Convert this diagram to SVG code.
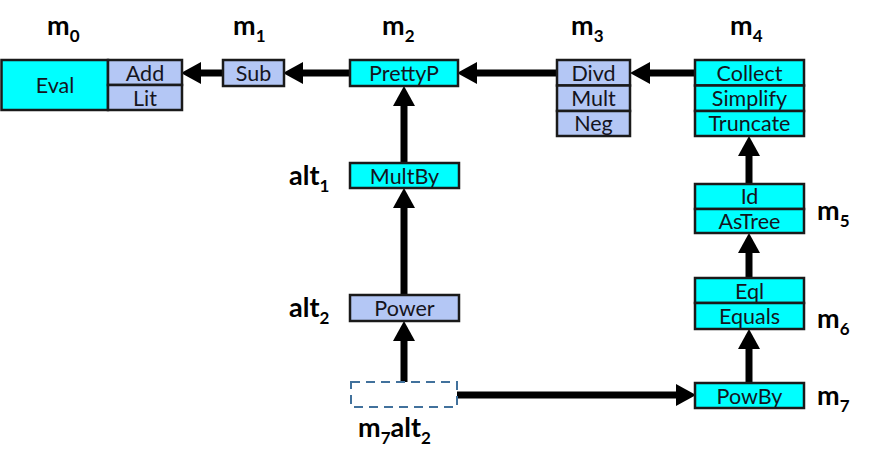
<svg xmlns="http://www.w3.org/2000/svg" width="870" height="466" viewBox="0 0 870 466">
<style>
.c{fill:#00FFFF;stroke:#1a1a1a;stroke-width:2.5}
.b{fill:#B4C7F5;stroke:#1a1a1a;stroke-width:2.5}
.t{font-family:Lato,"Open Sans",sans-serif;font-size:21.5px;fill:#141420;text-anchor:middle}
.h{font-family:Lato,"Open Sans",sans-serif;font-size:27px;font-weight:bold;fill:#000}
.s{font-size:17px}
.a{stroke:#000;stroke-width:7;fill:none}
</style>
<defs>
<marker id="ah" markerUnits="userSpaceOnUse" markerWidth="20" markerHeight="22" refX="0" refY="11" orient="auto" viewBox="0 0 20 22">
<path d="M0,0 L20,11 L0,22 z" fill="#000"/>
</marker>
</defs>
<rect width="870" height="466" fill="#fff"/>
<g id="connectors">
<line class="a" x1="223" y1="73" x2="201" y2="73" marker-end="url(#ah)"/>
<line class="a" x1="350" y1="73" x2="303" y2="73" marker-end="url(#ah)"/>
<line class="a" x1="557" y1="73" x2="477" y2="73" marker-end="url(#ah)"/>
<line class="a" x1="695" y1="73" x2="650" y2="73" marker-end="url(#ah)"/>
<line class="a" x1="749" y1="184" x2="749" y2="156" marker-end="url(#ah)"/>
<line class="a" x1="749" y1="278" x2="749" y2="253" marker-end="url(#ah)"/>
<line class="a" x1="749" y1="383" x2="749" y2="349" marker-end="url(#ah)"/>
<line class="a" x1="457" y1="395" x2="676" y2="395" marker-end="url(#ah)"/>
<line class="a" x1="404" y1="382" x2="404" y2="341" marker-end="url(#ah)"/>
<line class="a" x1="404" y1="295" x2="404" y2="208" marker-end="url(#ah)"/>
<line class="a" x1="404" y1="163" x2="404" y2="106" marker-end="url(#ah)"/>
</g>
<g id="m0">
<rect class="c" x="1.5" y="60" width="106.5" height="50"/>
<text class="t" x="55" y="93">Eval</text>
<rect class="b" x="108" y="60" width="74" height="25"/>
<text class="t" x="145" y="80.5">Add</text>
<rect class="b" x="108" y="85" width="74" height="25"/>
<text class="t" x="145" y="105.5">Lit</text>
<text class="h" x="47" y="35">m<tspan class="s" dy="7">0</tspan></text>
</g>
<g id="m1">
<rect class="b" x="223" y="60" width="61" height="26"/>
<text class="t" x="253.5" y="81">Sub</text>
<text class="h" x="233" y="35">m<tspan class="s" dy="7">1</tspan></text>
</g>
<g id="m2">
<rect class="c" x="350" y="60" width="108" height="26"/>
<text class="t" x="404" y="81">PrettyP</text>
<text class="h" x="382" y="35">m<tspan class="s" dy="7">2</tspan></text>
</g>
<g id="m3">
<rect class="b" x="557" y="60" width="73" height="25.5"/>
<text class="t" x="593.5" y="80.5">Divd</text>
<rect class="b" x="557" y="85.5" width="73" height="25.5"/>
<text class="t" x="593.5" y="106">Mult</text>
<rect class="b" x="557" y="111" width="73" height="25"/>
<text class="t" x="593.5" y="131">Neg</text>
<text class="h" x="571" y="35">m<tspan class="s" dy="7">3</tspan></text>
</g>
<g id="m4">
<rect class="c" x="695" y="60" width="109" height="25.5"/>
<text class="t" x="749.5" y="80.5">Collect</text>
<rect class="c" x="695" y="85.5" width="109" height="25.5"/>
<text class="t" x="749.5" y="106">Simplify</text>
<rect class="c" x="695" y="111" width="109" height="25"/>
<text class="t" x="749.5" y="131">Truncate</text>
<text class="h" x="730" y="35">m<tspan class="s" dy="7">4</tspan></text>
</g>
<g id="m5">
<rect class="c" x="695" y="184" width="109" height="25"/>
<text class="t" x="749.5" y="204">Id</text>
<rect class="c" x="695" y="209" width="109" height="24"/>
<text class="t" x="749.5" y="229">AsTree</text>
<text class="h" x="817" y="220">m<tspan class="s" dy="7">5</tspan></text>
</g>
<g id="m6">
<rect class="c" x="695" y="278" width="109" height="25"/>
<text class="t" x="749.5" y="298.5">Eql</text>
<rect class="c" x="695" y="303" width="109" height="26"/>
<text class="t" x="749.5" y="324">Equals</text>
<text class="h" x="817" y="328">m<tspan class="s" dy="7">6</tspan></text>
</g>
<g id="m7">
<rect class="c" x="695" y="383" width="109" height="25"/>
<text class="t" x="749.5" y="404">PowBy</text>
<text class="h" x="817" y="405">m<tspan class="s" dy="7">7</tspan></text>
</g>
<g id="alt1">
<rect class="c" x="350" y="163" width="109" height="25"/>
<text class="t" x="404.5" y="184">MultBy</text>
<text class="h" x="289" y="185">alt<tspan class="s" dy="7">1</tspan></text>
</g>
<g id="alt2">
<rect class="b" x="350" y="295" width="109" height="26"/>
<text class="t" x="404.5" y="316">Power</text>
<text class="h" x="289" y="317">alt<tspan class="s" dy="7">2</tspan></text>
</g>
<g id="m7alt2">
<rect x="351" y="382" width="106" height="25" fill="none" stroke="#41719C" stroke-width="2" stroke-dasharray="9,6"/>
<text class="h" x="358" y="437">m<tspan class="s" dy="7">7</tspan><tspan dy="-7">alt</tspan><tspan class="s" dy="7">2</tspan></text>
</g>
</svg>
